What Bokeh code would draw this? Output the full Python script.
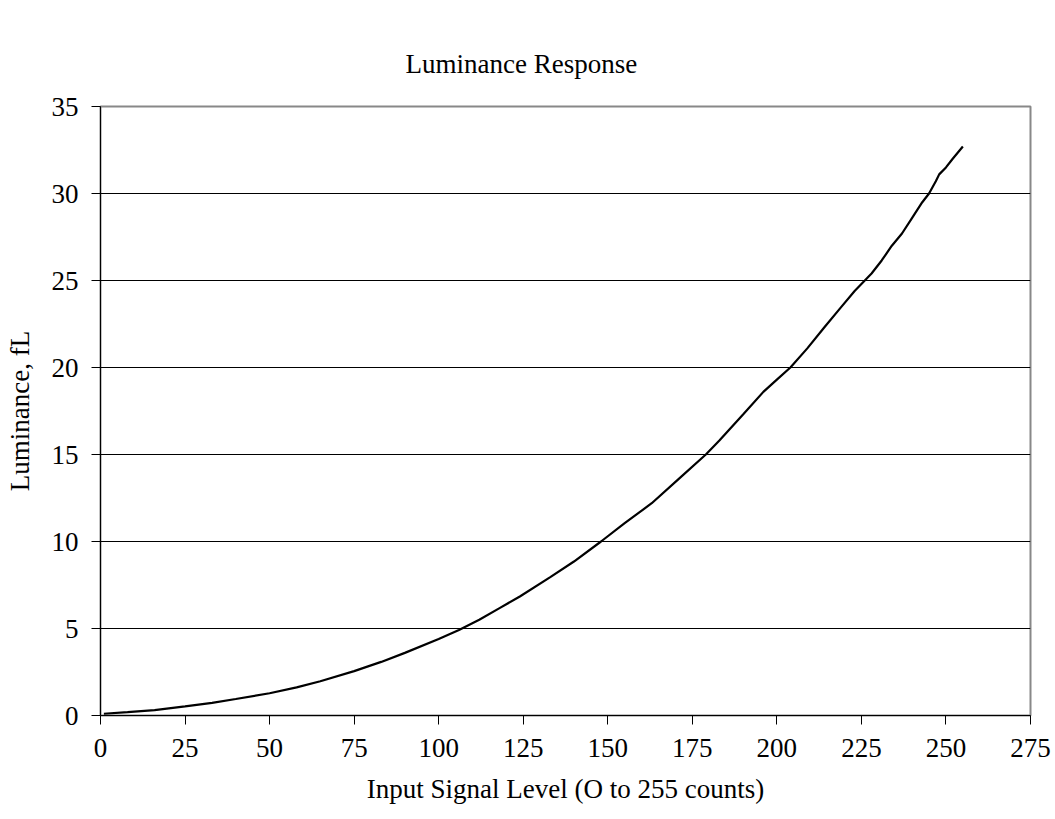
from bokeh.plotting import figure
from bokeh.models import Range1d, FixedTicker
from bokeh.embed import file_html
from bokeh.resources import INLINE

title_text = "Luminance Response"
x_label = "Input Signal Level (O to 255 counts)"
y_label = "Luminance, fL"

x_ticks = [0, 25, 50, 75, 100, 125, 150, 175, 200, 225, 250, 275]
y_ticks = [0, 5, 10, 15, 20, 25, 30, 35]

counts = [1, 8, 16, 25, 33, 40, 50, 58, 65, 75, 83, 90, 100, 106, 112, 118, 124,
          133, 140, 148, 155, 163, 171, 179, 183, 190, 196, 200, 204, 209, 214,
          219, 223, 226, 228, 231, 234, 237, 240, 243, 245, 247, 248, 250, 252, 255]
luminance = [0.10, 0.19, 0.31, 0.52, 0.73, 0.95, 1.28, 1.62, 1.97, 2.55, 3.08, 3.60,
             4.40, 4.92, 5.50, 6.17, 6.84, 7.95, 8.85, 10.0, 11.05, 12.2, 13.6, 15.0,
             15.8, 17.3, 18.6, 19.3, 20.0, 21.1, 22.3, 23.47, 24.4, 25.0, 25.4,
             26.15, 27.0, 27.7, 28.6, 29.5, 30.0, 30.7, 31.1, 31.5, 32.0, 32.7]

FONT = "Liberation Serif"
FS = "27px"

W, H = 1055, 819
p = figure(width=W, height=H, output_backend="svg", toolbar_location=None,
           x_range=Range1d(0, 275), y_range=Range1d(0, 35),
           min_border_left=100, min_border_right=W - 1030, min_border_top=106,
           min_border_bottom=H - 715)

p.line(counts, luminance, line_color="black", line_width=2.2)

for ax in (p.xaxis[0], p.yaxis[0]):
    ax.axis_line_color = "black"
    ax.axis_line_width = 1
    ax.major_tick_line_color = "black"
    ax.major_tick_in = 0
    ax.major_tick_out = 9
    ax.minor_tick_line_color = None
    ax.major_label_text_font = FONT
    ax.major_label_text_font_size = FS
    ax.major_label_text_color = "black"
    ax.axis_label_text_font = FONT
    ax.axis_label_text_font_size = FS
    ax.axis_label_text_font_style = "normal"
    ax.axis_label_text_color = "black"

p.xaxis.ticker = FixedTicker(ticks=x_ticks)
p.yaxis.ticker = FixedTicker(ticks=y_ticks)
p.xaxis.axis_label = x_label
p.yaxis.axis_label = y_label
p.xaxis.major_label_standoff = 14
p.yaxis.major_label_standoff = 13
p.xaxis.axis_label_standoff = 14
p.yaxis.axis_label_standoff = 14

p.xgrid.grid_line_color = None
p.ygrid.ticker = FixedTicker(ticks=y_ticks[1:-1])
p.ygrid.grid_line_color = "black"
p.ygrid.grid_line_width = 1

p.outline_line_color = "#888888"
p.outline_line_width = 2

p.title.text = title_text
p.title.text_font = FONT
p.title.text_font_size = FS
p.title.text_font_style = "normal"
p.title.text_color = "black"
p.title.align = "left"
p.title.offset = 305
p.title.standoff = 56

open("out.html", "w").write(file_html(p, INLINE))
